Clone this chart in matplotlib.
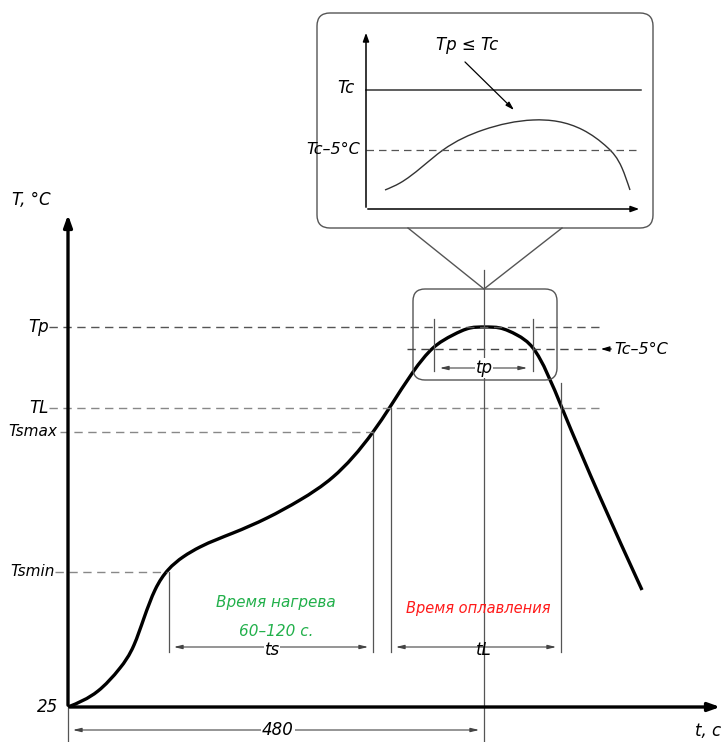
import matplotlib
matplotlib.use('Agg')
import matplotlib.pyplot as plt
import numpy as np
from matplotlib.path import Path
from matplotlib.patches import PathPatch, FancyBboxPatch

plt.rcParams['font.family'] = ['DejaVu Sans']
plt.rcParams['font.style'] = 'italic'

# main reflow curve (x right, y down)
curve_x = [68, 98, 120, 134, 144, 155, 168, 183, 200, 233, 267, 300, 333, 373, 390,
           413, 433, 453, 470, 485, 500, 517, 533, 562, 600, 642]
curve_y = [707, 691, 668, 645, 618, 590, 570, 557, 547, 533, 518, 500, 477, 432, 407,
           372, 348, 335, 328, 327, 328, 335, 348, 408, 497, 590]

# inset curve
inset_x = [385, 400, 443, 483, 533, 583, 608, 622, 630]
inset_y = [190, 183, 150, 130, 120, 130, 148, 168, 190]

# temperature levels (pixel rows) and their labels
level_names = ['Tp', 'TL', 'Tsmax', 'Tsmin', '25']
level_y = [327, 408, 432, 572, 707]
level_lbl_x = [28, 29, 8, 10, 37]
level_size = [12, 12, 11, 11, 12]
level_line = [(49, 600), (49, 600), (60, 375), (55, 167), None]
level_col = ['#555555', '#888888', '#888888', '#888888', None]

tc5_y = 349
t_center = 484


def smooth_path(xs, ys):
    # natural cubic spline through the read points, given to matplotlib as Bezier segments
    x = np.asarray(xs, float)
    y = np.asarray(ys, float)
    n = len(x)
    dx = np.diff(x)
    s = np.diff(y) / dx
    A = np.zeros((n, n))
    b = np.zeros(n)
    A[0, 0], A[0, 1], b[0] = 2, 1, 3 * s[0]
    A[-1, -2], A[-1, -1], b[-1] = 1, 2, 3 * s[-1]
    for i in range(1, n - 1):
        A[i, i - 1] = dx[i]
        A[i, i] = 2 * (dx[i - 1] + dx[i])
        A[i, i + 1] = dx[i - 1]
        b[i] = 3 * (dx[i] * s[i - 1] + dx[i - 1] * s[i])
    m = np.linalg.solve(A, b)
    verts = [(x[0], y[0])]
    codes = [Path.MOVETO]
    for i in range(n - 1):
        h = dx[i] / 3
        verts += [(x[i] + h, y[i] + m[i] * h), (x[i + 1] - h, y[i + 1] - m[i + 1] * h), (x[i + 1], y[i + 1])]
        codes += [Path.CURVE4] * 3
    return Path(verts, codes)


fig = plt.figure(figsize=(7.24, 7.42), dpi=100)
ax = fig.add_axes([0, 0, 1, 1])
ax.set_xlim(0, 724)
ax.set_ylim(742, 0)
ax.axis('off')

gray = '#555555'

# axes with arrows
ax.annotate('', xy=(68, 212), xytext=(68, 708),
            arrowprops=dict(arrowstyle='-|>,head_length=0.7,head_width=0.25', lw=2.4, color='black'))
ax.annotate('', xy=(723, 707), xytext=(67, 707),
            arrowprops=dict(arrowstyle='-|>,head_length=0.7,head_width=0.25', lw=2.4, color='black'))
ax.text(12, 200, 'T, °C', fontsize=12, va='center', ha='left')
ax.text(721, 731, 't, c', fontsize=12, va='center', ha='right')

# level dashed lines and labels
for name, y, lx, fs, seg, col in zip(level_names, level_y, level_lbl_x, level_size, level_line, level_col):
    ax.text(lx, y, name, fontsize=fs, ha='left', va='center')
    if seg is not None:
        ax.plot(seg, [y, y], color=col, lw=1.0, ls=(0, (6, 4)))

ax.plot([407, 600], [tc5_y, tc5_y], color='#444444', lw=1.0, ls=(0, (6, 4)))
ax.annotate('', xy=(598, tc5_y), xytext=(614, tc5_y),
            arrowprops=dict(arrowstyle='-|>,head_length=0.5,head_width=0.15', lw=0.9, color='black'))
ax.text(614, tc5_y, 'Tc–5°C', fontsize=11.5, va='center', ha='left')

# center vertical line
ax.plot([t_center, t_center], [270, 742], color=gray, lw=0.9)

# main curve
ax.add_patch(PathPatch(smooth_path(curve_x, curve_y), fill=False, lw=2.4, color='black'))

# small rounded box around peak
ax.add_patch(FancyBboxPatch((413, 289), 144, 91, boxstyle='round,pad=0,rounding_size=12',
                            fill=False, ec=gray, lw=1.0))
# lines to the inset box
ax.plot([408, t_center, 562], [228, 289, 228], color=gray, lw=1.0)
# large inset box
ax.add_patch(FancyBboxPatch((317, 13), 336, 215, boxstyle='round,pad=0,rounding_size=13',
                            fill=False, ec=gray, lw=1.0))

# inset axes
arr = dict(arrowstyle='-|>,head_length=0.5,head_width=0.18', lw=1.1, color='black')
ax.annotate('', xy=(366, 30), xytext=(366, 210), arrowprops=arr)
ax.annotate('', xy=(642, 209), xytext=(365, 209), arrowprops=arr)
ax.plot([366, 641], [90, 90], color='#333333', lw=1.1)
ax.plot([366, 641], [150, 150], color='#555555', lw=0.9, ls=(0, (6, 4)))
ax.text(346, 88, 'Tc', fontsize=12, ha='center', va='center')
ax.text(333, 150, 'Tc–5°C', fontsize=11.5, ha='center', va='center')
ax.add_patch(PathPatch(smooth_path(inset_x, inset_y), fill=False, lw=1.0, color='#333333'))
ax.text(467, 45, 'Tp ≤ Tc', fontsize=12, ha='center', va='center')
ax.annotate('', xy=(516, 112), xytext=(463, 60),
            arrowprops=dict(arrowstyle='-|>,head_length=0.5,head_width=0.15', lw=0.9, color='black'))

# tp dimension
ax.plot([434, 434], [319, 371], color=gray, lw=0.9)
ax.plot([533, 533], [319, 371], color=gray, lw=0.9)
dim = dict(arrowstyle='<|-|>,head_length=0.5,head_width=0.12', lw=0.8, color='#444444')
ax.annotate('', xy=(437, 368), xytext=(530, 368), arrowprops=dim)
ax.text(t_center, 368, 'tp', fontsize=12, ha='center', va='center',
        bbox=dict(fc='white', ec='none', pad=0.5))

# ts dimension
ax.plot([169, 169], [572, 652], color=gray, lw=0.9)
ax.plot([373, 373], [432, 652], color=gray, lw=0.9)
ax.annotate('', xy=(171, 647), xytext=(371, 647), arrowprops=dim)
ax.text(272, 650, 'ts', fontsize=12, ha='center', va='center',
        bbox=dict(fc='white', ec='none', pad=0.5))

# tL dimension
ax.plot([391, 391], [408, 652], color=gray, lw=0.9)
ax.plot([561, 561], [383, 652], color=gray, lw=0.9)
ax.annotate('', xy=(393, 647), xytext=(559, 647), arrowprops=dim)
ax.text(t_center, 650, 'tL', fontsize=12, ha='center', va='center')

# 480 dimension
ax.plot([68, 68], [707, 742], color=gray, lw=0.9)
ax.annotate('', xy=(70, 730), xytext=(482, 730), arrowprops=dim)
ax.text(278, 730, '480', fontsize=12, ha='center', va='center',
        bbox=dict(fc='white', ec='none', pad=0.5))

# zone labels
ax.text(276, 602, 'Время нагрева', fontsize=11, color='#22b04b', ha='center', va='center')
ax.text(276, 631, '60–120 с.', fontsize=11, color='#22b04b', ha='center', va='center')
ax.text(478, 608, 'Время оплавления', fontsize=10.5, color='#ff1a1a', ha='center', va='center')

fig.savefig('out.png', dpi=100)
